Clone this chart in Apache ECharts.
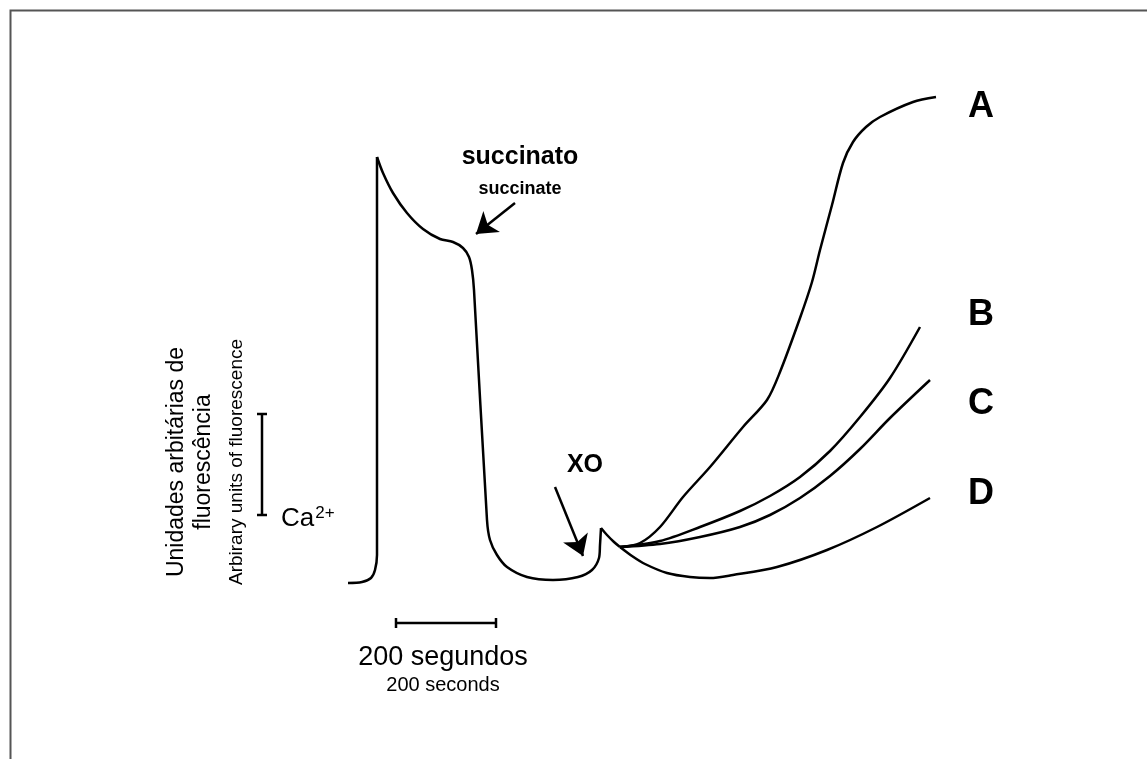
<!DOCTYPE html>
<html>
<head>
<meta charset="utf-8">
<title>Fluorescência Ca2+</title>
<script src="https://cdn.jsdelivr.net/npm/echarts@6/dist/echarts.min.js"></script>
<style>
  html, body { margin: 0; padding: 0; background: #fff; }
  #chart { width: 1147px; height: 759px; }
</style>
</head>
<body>
<div id="chart"></div>
<script>
// time in seconds, fluorescence in arbitrary units
var riseTrace = [[2, -0.3], [30, -0.2], [48, 0.2], [56, 1.0], [60, 2.5], [60, 42.3]];
var decayTrace = [[60, 42.3], [72, 40.7], [92, 38.7], [120, 36.7], [152, 35.1], [186, 34.1],
  [212, 33.8], [232, 33.2], [244, 32.3], [250, 31.0], [254, 29.0], [280, 6.0], [286, 4.0],
  [300, 2.5], [320, 1.3], [360, 0.3], [412, 0], [462, 0.3], [490, 1.0], [504, 2.2],
  [506, 3.5], [508, 5.2]];
var spikeTrace = [[508, 5.2], [520, 4.5], [534, 3.8], [546, 3.3]];
var traceA = [[546, 3.3], [586, 3.7], [626, 5.3], [672, 8.3], [726, 11.3], [792, 15.3],
  [840, 18.0], [866, 20.8], [906, 26.2], [930, 29.8], [946, 33.0], [970, 37.5], [992, 41.7],
  [1012, 43.8], [1038, 45.3], [1066, 46.3], [1132, 47.8], [1178, 48.3]];
var traceB = [[546, 3.3], [626, 3.9], [706, 5.3], [786, 6.9], [846, 8.4], [906, 10.3],
  [966, 12.9], [1026, 16.3], [1086, 20.2], [1146, 25.3]];
var traceC = [[546, 3.3], [626, 3.6], [706, 4.3], [786, 5.3], [846, 6.5], [906, 8.2],
  [966, 10.4], [1026, 13.1], [1086, 16.2], [1166, 20.0]];
var traceD = [[546, 3.3], [570, 2.4], [596, 1.6], [640, 0.7], [686, 0.3], [726, 0.2],
  [772, 0.5], [860, 1.3], [960, 3.0], [1060, 5.3], [1166, 8.2]];

// scale bars: 200 s and the Ca2+ fluorescence bar
var timeBar = [98, 298];
var timeBarY = -4.3;
var caBar = [6.5, 16.6];
var caBarX = -170;

// arrows: succinate and XO additions
var succArrow = [[336, 37.7], [258, 34.6]];
var xoArrow = [[416, 9.3], [472, 2.4]];

var traceLabels = ['A', 'B', 'C', 'D'];

function traceSeries(name, data) {
  return {
    name: name,
    type: 'line',
    data: data,
    smooth: 0.3,
    symbol: 'none',
    silent: true,
    clip: false,
    lineStyle: { color: '#000', width: 2.5 }
  };
}

function barSeries(data) {
  return {
    type: 'line',
    data: data,
    symbol: 'none',
    silent: true,
    clip: false,
    lineStyle: { color: '#000', width: 2.5 }
  };
}

var tb = 0.5, cb = 10;
var series = [
  traceSeries('rise', riseTrace),
  traceSeries('decay', decayTrace),
  traceSeries('spike', spikeTrace),
  traceSeries('A', traceA),
  traceSeries('B', traceB),
  traceSeries('C', traceC),
  traceSeries('D', traceD),
  barSeries([[timeBar[0], timeBarY], [timeBar[1], timeBarY]]),
  barSeries([[timeBar[0], timeBarY - tb], [timeBar[0], timeBarY + tb]]),
  barSeries([[timeBar[1], timeBarY - tb], [timeBar[1], timeBarY + tb]]),
  barSeries([[caBarX, caBar[0]], [caBarX, caBar[1]]]),
  barSeries([[caBarX - cb, caBar[0]], [caBarX + cb, caBar[0]]]),
  barSeries([[caBarX - cb, caBar[1]], [caBarX + cb, caBar[1]]]),
  {
    type: 'lines',
    coordinateSystem: 'cartesian2d',
    silent: true,
    symbol: ['none', 'arrow'],
    symbolSize: 20,
    lineStyle: { color: '#000', width: 2.5, opacity: 1 },
    data: [{ coords: succArrow }, { coords: xoArrow }]
  }
];

var font = 'Liberation Sans, Arial, sans-serif';
function txt(x, y, s, size, bold, extra) {
  var o = {
    type: 'text', x: x, y: y, silent: true,
    style: {
      text: s, fontSize: size, fontFamily: font, fontWeight: bold ? 'bold' : 'normal',
      fill: '#000', align: 'center', verticalAlign: 'middle'
    }
  };
  if (extra) Object.assign(o, extra);
  return o;
}

var labelY = [107, 315, 404, 494];
var graphics = [
  { type: 'polyline', silent: true, shape: { points: [[10.5, 759], [10.5, 10.5], [1147, 10.5]] },
    style: { stroke: '#555', lineWidth: 2, fill: null } },
  txt(520, 157, 'succinato', 25, true),
  txt(520, 189, 'succinate', 18, true),
  txt(585, 465, 'XO', 25, true),
  txt(443, 658, '200 segundos', 27, false),
  txt(443, 685, '200 seconds', 20, false),
  txt(177, 462, 'Unidades arbitárias de', 23, false, { rotation: Math.PI / 2 }),
  txt(204, 462, 'fluorescência', 23, false, { rotation: Math.PI / 2 }),
  txt(237, 462, 'Arbirary units of fluorescence', 19, false, { rotation: Math.PI / 2 }),
  {
    type: 'text', x: 281, y: 519, silent: true,
    style: {
      text: '{b|Ca}{s|2+}', fontFamily: font, fill: '#000', verticalAlign: 'middle',
      rich: {
        b: { fontSize: 26, fontFamily: font },
        s: { fontSize: 17, fontFamily: font, verticalAlign: 'bottom', padding: [0, 0, 12, 1] }
      }
    }
  }
];
traceLabels.forEach(function (l, i) {
  graphics.push(txt(981, labelY[i], l, 36, true));
});

var chart = echarts.init(document.getElementById('chart'));
chart.setOption({
  animation: false,
  backgroundColor: '#fff',
  grid: { left: 0, right: 0, top: 0, bottom: 0 },
  xAxis: { type: 'value', min: -694, max: 1600, show: false },
  yAxis: { type: 'value', min: -17.9, max: 58, show: false },
  series: series,
  graphic: graphics
});
</script>
</body>
</html>
